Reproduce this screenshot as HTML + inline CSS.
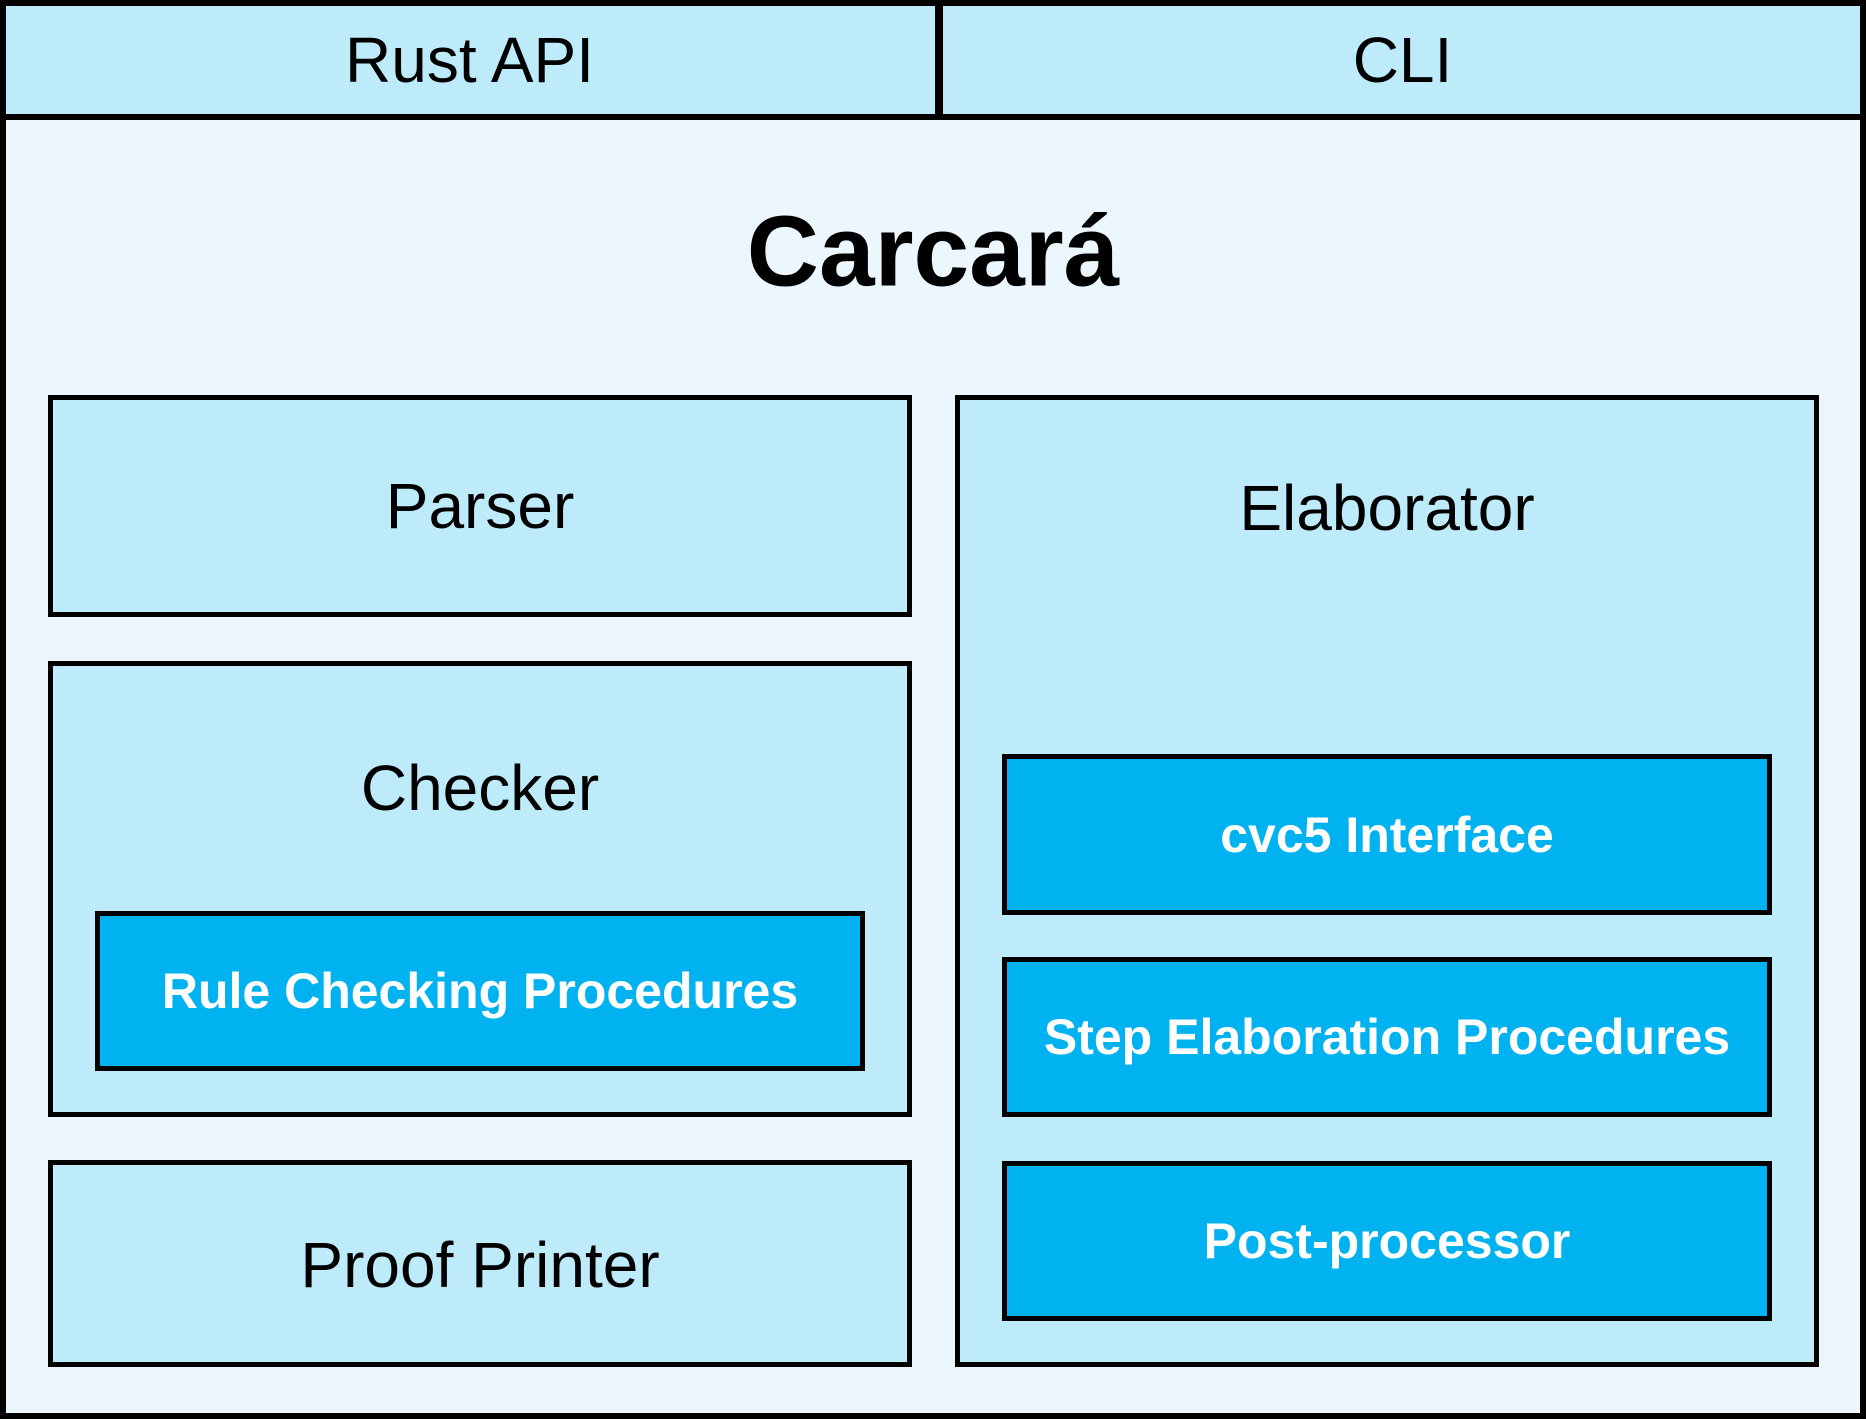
<!DOCTYPE html>
<html><head><meta charset="utf-8"><style>
html,body{margin:0;padding:0;}
body{width:1866px;height:1419px;position:relative;background:#EBF7FD;font-family:"Liberation Sans",sans-serif;overflow:hidden;}
.b{position:absolute;box-sizing:border-box;border:5px solid #000;}
.t{position:absolute;left:0;right:0;text-align:center;transform:translateY(-50%);color:#000;}
.m{background:#BDEBF9;}
.d{background:#00B2F0;display:flex;align-items:center;justify-content:center;color:#fff;font-weight:bold;font-size:50px;}
.n{font-size:64px;}
</style></head><body>
<div class="b" style="left:0;top:0;width:1866px;height:1419px;background:#EBF7FD;border-width:6px"></div>
<div class="b m" style="left:0;top:0;width:943px;height:120px;border-width:6px"></div>
<div class="b m" style="left:936px;top:0;width:930px;height:120px;border-width:6px"></div>
<div style="position:absolute;left:935px;top:0;width:8px;height:118px;background:#000"></div>
<div class="t n" style="left:0;width:939px;top:60px">Rust API</div>
<div class="t n" style="left:939px;width:927px;top:60px">CLI</div>
<div class="t" style="top:252px;font-size:100px;font-weight:bold">Carcará</div>

<div class="b m" style="left:48px;top:395px;width:864px;height:222px"></div>
<div class="t n" style="left:48px;width:864px;right:auto;top:506px">Parser</div>

<div class="b m" style="left:48px;top:661px;width:864px;height:456px"></div>
<div class="t n" style="left:48px;width:864px;right:auto;top:788px">Checker</div>
<div class="b d" style="left:95px;top:911px;width:770px;height:160px">Rule Checking Procedures</div>

<div class="b m" style="left:48px;top:1160px;width:864px;height:207px"></div>
<div class="t n" style="left:48px;width:864px;right:auto;top:1265px">Proof Printer</div>

<div class="b m" style="left:955px;top:395px;width:864px;height:972px"></div>
<div class="t n" style="left:955px;width:864px;right:auto;top:508px">Elaborator</div>
<div class="b d" style="left:1002px;top:754px;width:770px;height:161px">cvc5 Interface</div>
<div class="b d" style="left:1002px;top:957px;width:770px;height:160px">Step Elaboration Procedures</div>
<div class="b d" style="left:1002px;top:1161px;width:770px;height:160px">Post-processor</div>
</body></html>
